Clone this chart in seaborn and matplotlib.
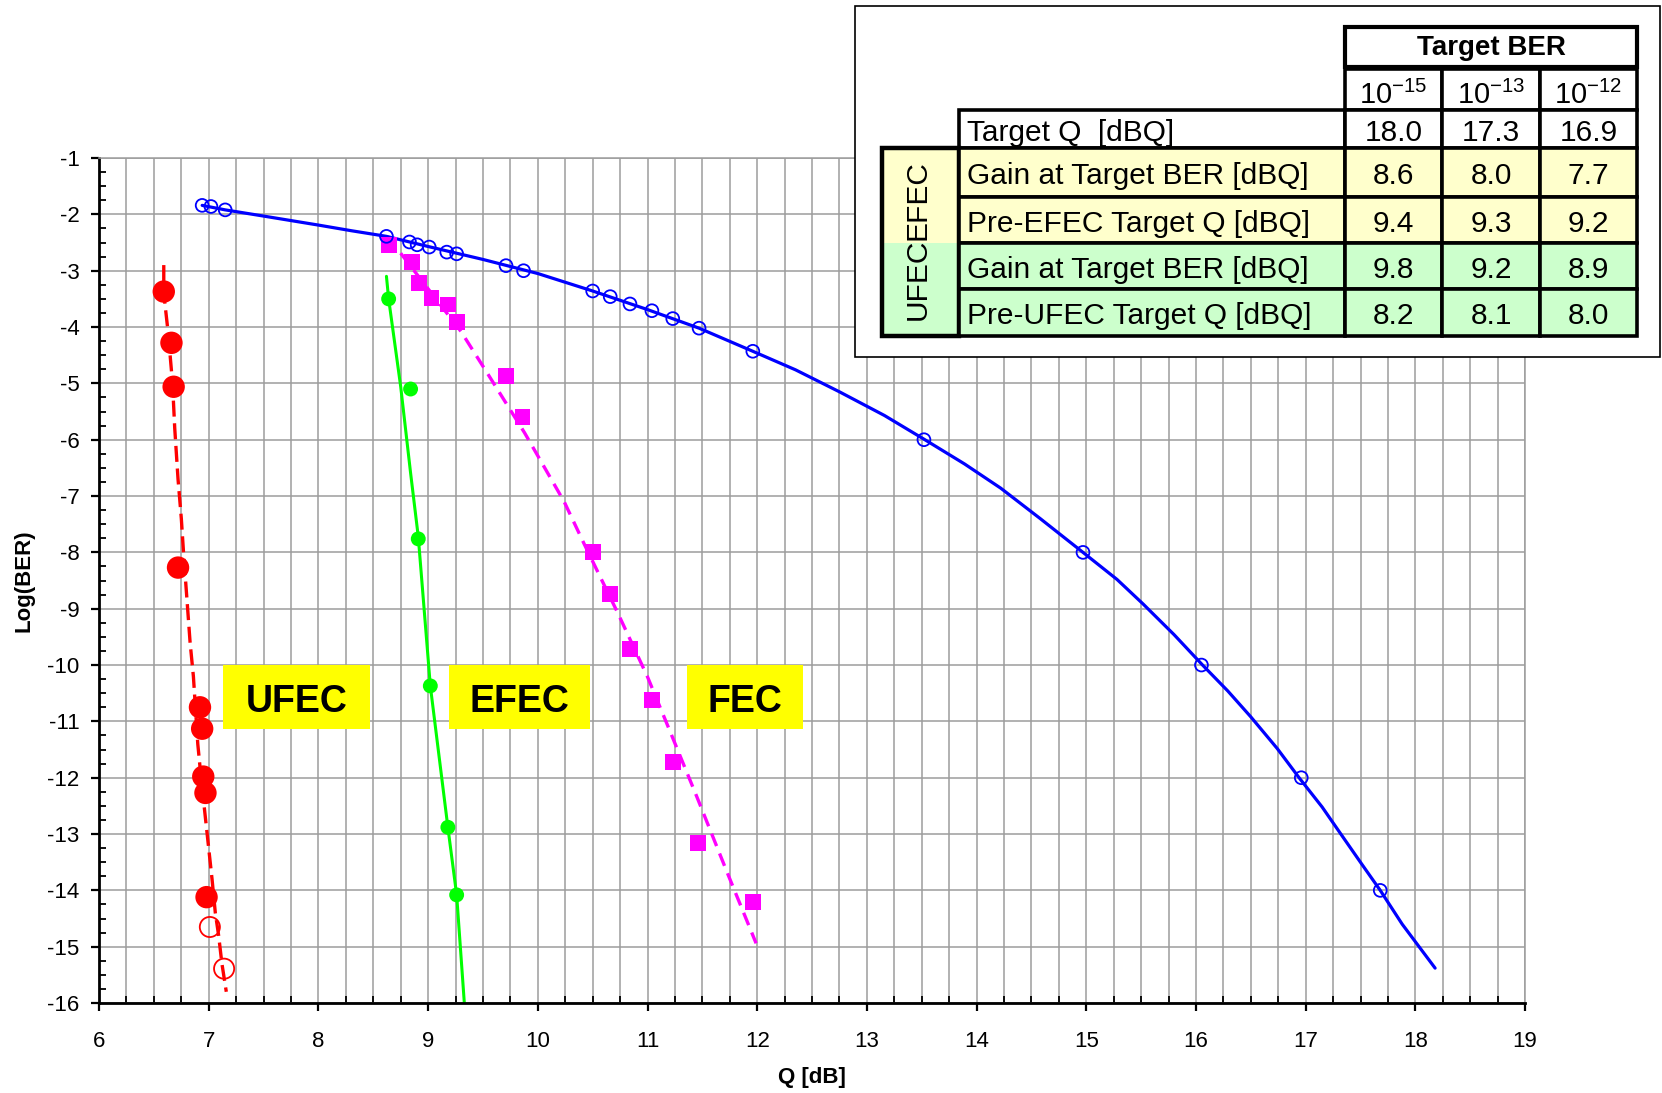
import matplotlib
matplotlib.use("Agg")
import matplotlib.pyplot as plt
from matplotlib.patches import Rectangle
from matplotlib.ticker import MultipleLocator
import seaborn as sns

# ---- curves: Q [dB] vs log10(BER) ----
# UFEC (red, dashed fit, big filled dots + two open dots)
ufec_q = [6.59, 6.66, 6.68, 6.72, 6.92, 6.94, 6.95, 6.97, 6.98]
ufec_ber = [-3.37, -4.28, -5.06, -8.27, -10.75, -11.13, -11.98, -12.27, -14.12]
ufec_open_q = [7.01, 7.14]
ufec_open_ber = [-14.65, -15.39]
ufec_fit_q = [6.59, 6.59, 6.63, 6.67, 6.69, 6.72, 6.75, 6.77, 6.80, 6.83, 6.86, 6.90,
              6.93, 6.98, 7.03, 7.06, 7.09, 7.12, 7.16]
ufec_fit_ber = [-2.9, -3.4, -4.1, -5.0, -5.8, -6.7, -7.4, -8.0, -8.8, -9.6, -10.2, -11.4,
                -12.0, -12.9, -13.8, -14.4, -14.8, -15.3, -15.8]

# EFEC (green, solid fit)
efec_q = [8.64, 8.84, 8.91, 9.02, 9.18, 9.26]
efec_ber = [-3.50, -5.10, -7.76, -10.37, -12.88, -14.08]
efec_fit_q = [8.62, 8.64, 8.75, 8.84, 8.91, 9.02, 9.18, 9.26, 9.33]
efec_fit_ber = [-3.1, -3.5, -5.06, -6.59, -7.72, -10.37, -12.88, -14.08, -16.0]

# FEC (magenta, dashed fit, squares)
fec_q = [8.64, 8.85, 8.92, 9.03, 9.18, 9.26, 9.71, 9.86, 10.50, 10.66, 10.84, 11.04,
         11.23, 11.46, 11.96]
fec_ber = [-2.55, -2.84, -3.22, -3.49, -3.60, -3.91, -4.87, -5.59, -7.99, -8.74, -9.71,
           -10.62, -11.72, -13.16, -14.20]
fec_fit_q = [8.63, 8.75, 8.90, 9.30, 9.54, 9.88, 10.24, 10.42, 10.73, 11.00, 11.17,
             11.45, 11.73, 11.99]
fec_fit_ber = [-2.39, -2.69, -3.07, -4.08, -4.82, -5.88, -7.10, -7.84, -9.08, -10.21,
               -11.01, -12.34, -13.70, -14.94]

# no FEC (blue, solid curve, open circles)
nofec_q = [6.94, 7.02, 7.15, 8.62, 8.83, 8.90, 9.01, 9.17, 9.26, 9.71, 9.87, 10.50,
           10.66, 10.84, 11.04, 11.23, 11.47, 11.96, 13.52, 14.97, 16.05, 16.96, 17.68]
nofec_ber = [-1.84, -1.86, -1.92, -2.39, -2.49, -2.54, -2.58, -2.67, -2.70, -2.91, -3.00,
             -3.36, -3.46, -3.59, -3.71, -3.85, -4.02, -4.43, -6.00, -8.00, -10.0, -12.0,
             -14.0]
nofec_fit_q = [6.94, 7.15, 7.5, 8.0, 8.3, 8.62, 9.0, 9.5, 10.0, 10.5, 11.0, 11.47, 11.96,
               12.35, 12.75, 13.16, 13.52, 13.89, 14.22, 14.58, 14.97, 15.28, 15.52,
               15.80, 16.06, 16.29, 16.50, 16.74, 16.94, 17.15, 17.31, 17.51, 17.68,
               17.88, 18.18]
nofec_fit_ber = [-1.84, -1.92, -2.03, -2.19, -2.29, -2.39, -2.57, -2.80, -3.05, -3.36,
                 -3.69, -4.02, -4.43, -4.76, -5.15, -5.57, -5.99, -6.43, -6.86, -7.40,
                 -8.00, -8.48, -8.92, -9.46, -10.0, -10.46, -10.92, -11.48, -12.0,
                 -12.52, -12.97, -13.53, -14.0, -14.6, -15.38]

# curve labels (text, box from/to Q, box from/to logBER)
label_names = ["UFEC", "EFEC", "FEC"]
label_q0 = [7.13, 9.19, 11.36]
label_q1 = [8.47, 10.48, 12.42]
label_ber0 = -11.14
label_ber1 = -10.0

# ---- table ----
ber_exponents = [-15, -13, -12]
target_q = [18.0, 17.3, 16.9]
efec_gain = [8.6, 8.0, 7.7]
efec_pre_q = [9.4, 9.3, 9.2]
ufec_gain = [9.8, 9.2, 8.9]
ufec_pre_q = [8.2, 8.1, 8.0]
row_names = ["Gain at Target BER [dBQ]", "Pre-EFEC Target Q [dBQ]",
             "Gain at Target BER [dBQ]", "Pre-UFEC Target Q [dBQ]"]

RED, GREEN, MAGENTA, BLUE = "#FF0000", "#00FF00", "#FF00FF", "#0000FF"
GRID = "#9C9C9C"
PALE_YELLOW, PALE_GREEN = "#FFFFCC", "#CCFFCC"

sns.set_style("white")
plt.rcParams["font.family"] = ["Liberation Sans", "DejaVu Sans"]
plt.rcParams["axes.unicode_minus"] = False
plt.rcParams["mathtext.fontset"] = "custom"
plt.rcParams["mathtext.rm"] = "Liberation Sans"
plt.rcParams["mathtext.default"] = "regular"
for key in ("text.color", "axes.labelcolor", "xtick.color", "ytick.color"):
    plt.rcParams[key] = "black"

fig = plt.figure(figsize=(16.62, 10.93), dpi=100)
ax = fig.add_axes([0.0596, 0.0823, 0.8580, 0.7731])

# fitted curves
sns.lineplot(x=ufec_fit_q, y=ufec_fit_ber, sort=False, estimator=None, color=RED,
             lw=2.4, linestyle=(0, (4.8, 2.0)), ax=ax)
sns.lineplot(x=efec_fit_q, y=efec_fit_ber, sort=False, estimator=None, color=GREEN,
             lw=2.2, ax=ax)
sns.lineplot(x=fec_fit_q, y=fec_fit_ber, sort=False, estimator=None, color=MAGENTA,
             lw=2.4, linestyle=(0, (4.0, 2.4)), ax=ax)
sns.lineplot(x=nofec_fit_q, y=nofec_fit_ber, sort=False, estimator=None, color=BLUE,
             lw=2.3, ax=ax)

# measured points
sns.scatterplot(x=ufec_q, y=ufec_ber, color=RED, s=260, edgecolor="none", zorder=4, ax=ax)
sns.scatterplot(x=ufec_open_q, y=ufec_open_ber, color=RED, s=210, facecolors="none",
                edgecolor=RED, linewidth=1.3, zorder=4, ax=ax)
sns.scatterplot(x=efec_q, y=efec_ber, color=GREEN, s=115, edgecolor="none", zorder=4, ax=ax)
sns.scatterplot(x=fec_q, y=fec_ber, color=MAGENTA, marker="s", s=130, edgecolor="none",
                zorder=4, ax=ax)
sns.scatterplot(x=nofec_q, y=nofec_ber, color=BLUE, s=85, facecolors="none",
                edgecolor=BLUE, linewidth=1.3, zorder=4, ax=ax)

# yellow curve labels
for name, q0, q1 in zip(label_names, label_q0, label_q1):
    ax.add_patch(Rectangle((q0, label_ber0), q1 - q0, label_ber1 - label_ber0,
                           facecolor="#FFFF00", edgecolor="none", zorder=5))
    ax.text((q0 + q1) / 2, (label_ber0 + label_ber1) / 2 - 0.08, name, fontsize=27,
            fontweight="bold", ha="center", va="center", zorder=6)

ax.set_xlim(6, 19)
ax.set_ylim(-16, -1)
ax.xaxis.set_major_locator(MultipleLocator(1))
ax.xaxis.set_minor_locator(MultipleLocator(0.25))
ax.yaxis.set_major_locator(MultipleLocator(1))
ax.yaxis.set_minor_locator(MultipleLocator(0.25))
ax.set_axisbelow(True)
ax.grid(which="major", axis="both", color=GRID, lw=1.1)
ax.grid(which="minor", axis="x", color=GRID, lw=1.1)
ax.tick_params(which="both", bottom=True, left=True, top=False, right=False)
ax.tick_params(which="major", direction="out", length=6, width=1.6, labelsize=16)
ax.tick_params(which="minor", direction="in", length=5, width=1.3)
ax.tick_params(axis="x", which="major", pad=14)
ax.tick_params(axis="y", which="major", pad=8)
for side in ("left", "bottom"):
    ax.spines[side].set_color("black")
    ax.spines[side].set_linewidth(2)
for side in ("top", "right"):
    ax.spines[side].set_color(GRID)
    ax.spines[side].set_linewidth(1.1)
ax.set_xlabel("Q [dB]", fontsize=16, fontweight="bold", labelpad=11)
ax.set_ylabel("Log(BER)", fontsize=16, fontweight="bold", labelpad=9)

# ---- table overlay, drawn in pixel coordinates of the figure ----
tax = fig.add_axes([0, 0, 1, 1], zorder=10)
tax.set_xlim(0, 1662)
tax.set_ylim(1093, 0)
tax.axis("off")
tax.patch.set_alpha(0)


def cell(x0, x1, y0, y1, fc="white", lw=2.6):
    tax.add_patch(Rectangle((x0, y0), x1 - x0, y1 - y0, facecolor=fc,
                            edgecolor="black", lw=lw))


tax.add_patch(Rectangle((855, 6), 805, 351, facecolor="white", edgecolor="black", lw=1.2))

cols = [(1345, 1442), (1442, 1540), (1540, 1637)]
name_x0, name_x1 = 959, 1345
rows = [(148, 197), (197, 243), (243, 289), (289, 336)]
row_fill = [PALE_YELLOW, PALE_YELLOW, PALE_GREEN, PALE_GREEN]
row_values = [efec_gain, efec_pre_q, ufec_gain, ufec_pre_q]
txt = dict(fontsize=21.5, va="center")

cell(1345, 1637, 27, 67, lw=3)
tax.text(1491, 48, "Target BER", fontsize=20, fontweight="bold", ha="center", va="center")
for (x0, x1), e in zip(cols, ber_exponents):
    cell(x0, x1, 69, 110)
    tax.text((x0 + x1) / 2, 95, "10$^{%d}$" % e, fontsize=21, ha="center", va="center")

cell(name_x0, name_x1, 110, 148)
tax.text(name_x0 + 8, 133, "Target Q  [dBQ]", ha="left", **txt)
for (x0, x1), v in zip(cols, target_q):
    cell(x0, x1, 110, 148)
    tax.text((x0 + x1) / 2, 133, f"{v:.1f}", ha="center", **txt)

# left group labels
tax.add_patch(Rectangle((882, 148), 77, 95, facecolor=PALE_YELLOW, edgecolor="none"))
tax.add_patch(Rectangle((882, 243), 77, 93, facecolor=PALE_GREEN, edgecolor="none"))
tax.add_patch(Rectangle((882, 148), 77, 188, facecolor="none", edgecolor="black", lw=3.2))
tax.text(918, 200, "EFEC", rotation=90, ha="center", **txt)
tax.text(918, 279, "UFEC", rotation=90, ha="center", **txt)

for (y0, y1), fc, name, vals in zip(rows, row_fill, row_names, row_values):
    cell(name_x0, name_x1, y0, y1, fc=fc)
    tax.text(name_x0 + 8, (y0 + y1) / 2 + 4, name, ha="left", **txt)
    for (x0, x1), v in zip(cols, vals):
        cell(x0, x1, y0, y1, fc=fc)
        tax.text((x0 + x1) / 2, (y0 + y1) / 2 + 4, f"{v:.1f}", ha="center", **txt)

fig.savefig("out.png", dpi=100)
